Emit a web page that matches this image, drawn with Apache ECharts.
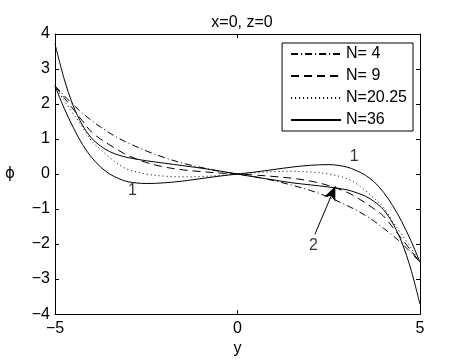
<!DOCTYPE html>
<html>
<head>
<meta charset="utf-8">
<script src="https://cdn.jsdelivr.net/npm/echarts@6/dist/echarts.min.js"></script>
<style>html,body{margin:0;padding:0;background:#fff}#c{width:457px;height:362px}</style>
</head>
<body>
<div id="c"></div>
<script>
// y positions (x-axis values)
const yPos = [-5,-4.75,-4.5,-4.25,-4,-3.75,-3.5,-3.25,-3,-2.5,-2,-1.5,-1,-0.5,0,0.5,1,1.5,2,2.5,3,3.25,3.5,3.75,4,4.25,4.5,4.75,5];
// phi values
const phiN4  = [2.52,2.24,1.98,1.74,1.53,1.34,1.17,1.02,0.89,0.66,0.47,0.31,0.19,0.08,0,-0.08,-0.19,-0.32,-0.47,-0.66,-0.9,-1.03,-1.18,-1.35,-1.55,-1.75,-1.98,-2.24,-2.52];
const phiN9  = [2.52,2.18,1.85,1.52,1.2,1.0,0.83,0.67,0.53,0.33,0.2,0.12,0.07,0.03,0,-0.03,-0.07,-0.12,-0.2,-0.33,-0.52,-0.66,-0.82,-1.0,-1.2,-1.52,-1.85,-2.18,-2.52];
const phiN20 = [2.52,2.1,1.72,1.35,0.95,0.7,0.47,0.27,0.13,0.0,-0.06,-0.08,-0.07,-0.04,0,0.04,0.07,0.08,0.06,0.0,-0.13,-0.27,-0.47,-0.7,-0.95,-1.35,-1.72,-2.1,-2.52];
const phiN36a = [2.52,1.88,1.33,0.85,0.48,0.2,0.0,-0.13,-0.22,-0.27,-0.25,-0.2,-0.13,-0.06,0,0.06,0.13,0.2,0.25,0.27,0.2,0.1,-0.03,-0.23,-0.52,-0.9,-1.36,-1.9,-2.52];
const phiN36b = [3.72,2.72,1.95,1.4,1.03,0.8,0.64,0.54,0.47,0.38,0.31,0.24,0.17,0.09,0,-0.09,-0.17,-0.25,-0.31,-0.37,-0.45,-0.53,-0.63,-0.79,-1.02,-1.4,-1.95,-2.72,-3.72];
const seriesNames = ['N= 4','N= 9','N=20.25','N=36'];
const xTicks = [-5,0,5];
const yTicks = [-4,-3,-2,-1,0,1,2,3,4];
// annotations: [y, phi, text]
const curveLabels = [[-2.88,-0.48,'1'],[3.2,0.5,'1'],[2.08,-2.03,'2']];
const arrowFrom = [2.12,-1.72];
const arrowTo = [2.68,-0.35];

const FONT = 'Liberation Sans';
const toPairs = vals => yPos.map((x,i)=>[x, vals[i]]);
const fmt = v => String(v).replace('-', '\u2212');

const chart = echarts.init(document.getElementById('c'), null, {renderer:'canvas'});
const axisCommon = {
  type:'value',
  splitLine:{show:false},
  axisLine:{show:true, onZero:false, lineStyle:{color:'#000', width:1}},
  axisTick:{show:true, inside:true, length:4, lineStyle:{color:'#000'}},
};
const mkLine = (name, vals, type, extra) => Object.assign({
  name, type:'line', data: toPairs(vals), smooth:0.35, symbol:'none', showSymbol:false,
  lineStyle:{color:'#000', width:1, type}, itemStyle:{color:'#000'}, z:3
}, extra||{});

chart.setOption({
  animation:false,
  backgroundColor:'#fff',
  title:{text:'x=0, z=0', left:237, top:10, textAlign:'center',
    textStyle:{fontFamily:FONT, fontSize:16, fontWeight:'normal', color:'#000'}},
  grid:{left:55, right:37, top:34, bottom:44, containLabel:false},
  legend:{
    data: seriesNames, orient:'vertical', right:44, top:43,
    itemWidth:50, itemHeight:14, itemGap:6, itemTextGap:5,
    padding:[3,6,3,8], borderColor:'#000', borderWidth:1, borderRadius:0,
    backgroundColor:'#fff', align:'left',
    itemStyle:{opacity:0, color:'rgba(0,0,0,0)', borderWidth:0},
    textStyle:{fontFamily:FONT, fontSize:16, color:'#000'}
  },
  xAxis:[
    Object.assign({}, axisCommon, {position:'bottom', min:-5, max:5, interval:5,
      name:'y', nameLocation:'middle', nameGap:26,
      nameTextStyle:{fontFamily:FONT, fontSize:16, color:'#000'},
      axisLabel:{fontFamily:FONT, fontSize:16, color:'#000', margin:6, formatter:fmt}}),
    Object.assign({}, axisCommon, {position:'top', min:-5, max:5, interval:5, axisLabel:{show:false}})
  ],
  yAxis:[
    Object.assign({}, axisCommon, {position:'left', min:-4, max:4, interval:1,
      name:'\u03D5', nameLocation:'middle', nameRotate:0, nameGap:40,
      nameTextStyle:{fontFamily:'DejaVu Sans', fontSize:15, color:'#000'},
      axisLabel:{fontFamily:FONT, fontSize:16, color:'#000', margin:5, formatter:fmt}}),
    Object.assign({}, axisCommon, {position:'right', min:-4, max:4, interval:1, axisLabel:{show:false}})
  ],
  series:[
    mkLine(seriesNames[0], phiN4, [7,3,1,3]),
    mkLine(seriesNames[1], phiN9, [8,5]),
    mkLine(seriesNames[2], phiN20, [1,3]),
    mkLine(seriesNames[3], phiN36a, 'solid'),
    mkLine(seriesNames[3], phiN36b, 'solid', {
      markLine:{silent:true, symbol:['none','arrow'], symbolSize:12,
        lineStyle:{color:'#000', type:'solid', width:1}, itemStyle:{color:'#000'}, label:{show:false},
        data:[[{coord:arrowFrom, symbol:'none'},{coord:arrowTo, symbol:'arrow', symbolSize:[9,14]}]]}
    }),
    {name:'labels', type:'scatter', data:curveLabels, symbolSize:1,
      itemStyle:{color:'rgba(0,0,0,0)'}, silent:true,
      label:{show:true, position:'inside', formatter:p=>p.value[2],
        fontFamily:FONT, fontSize:16, color:'#000'}}
  ]
});
</script>
</body>
</html>
